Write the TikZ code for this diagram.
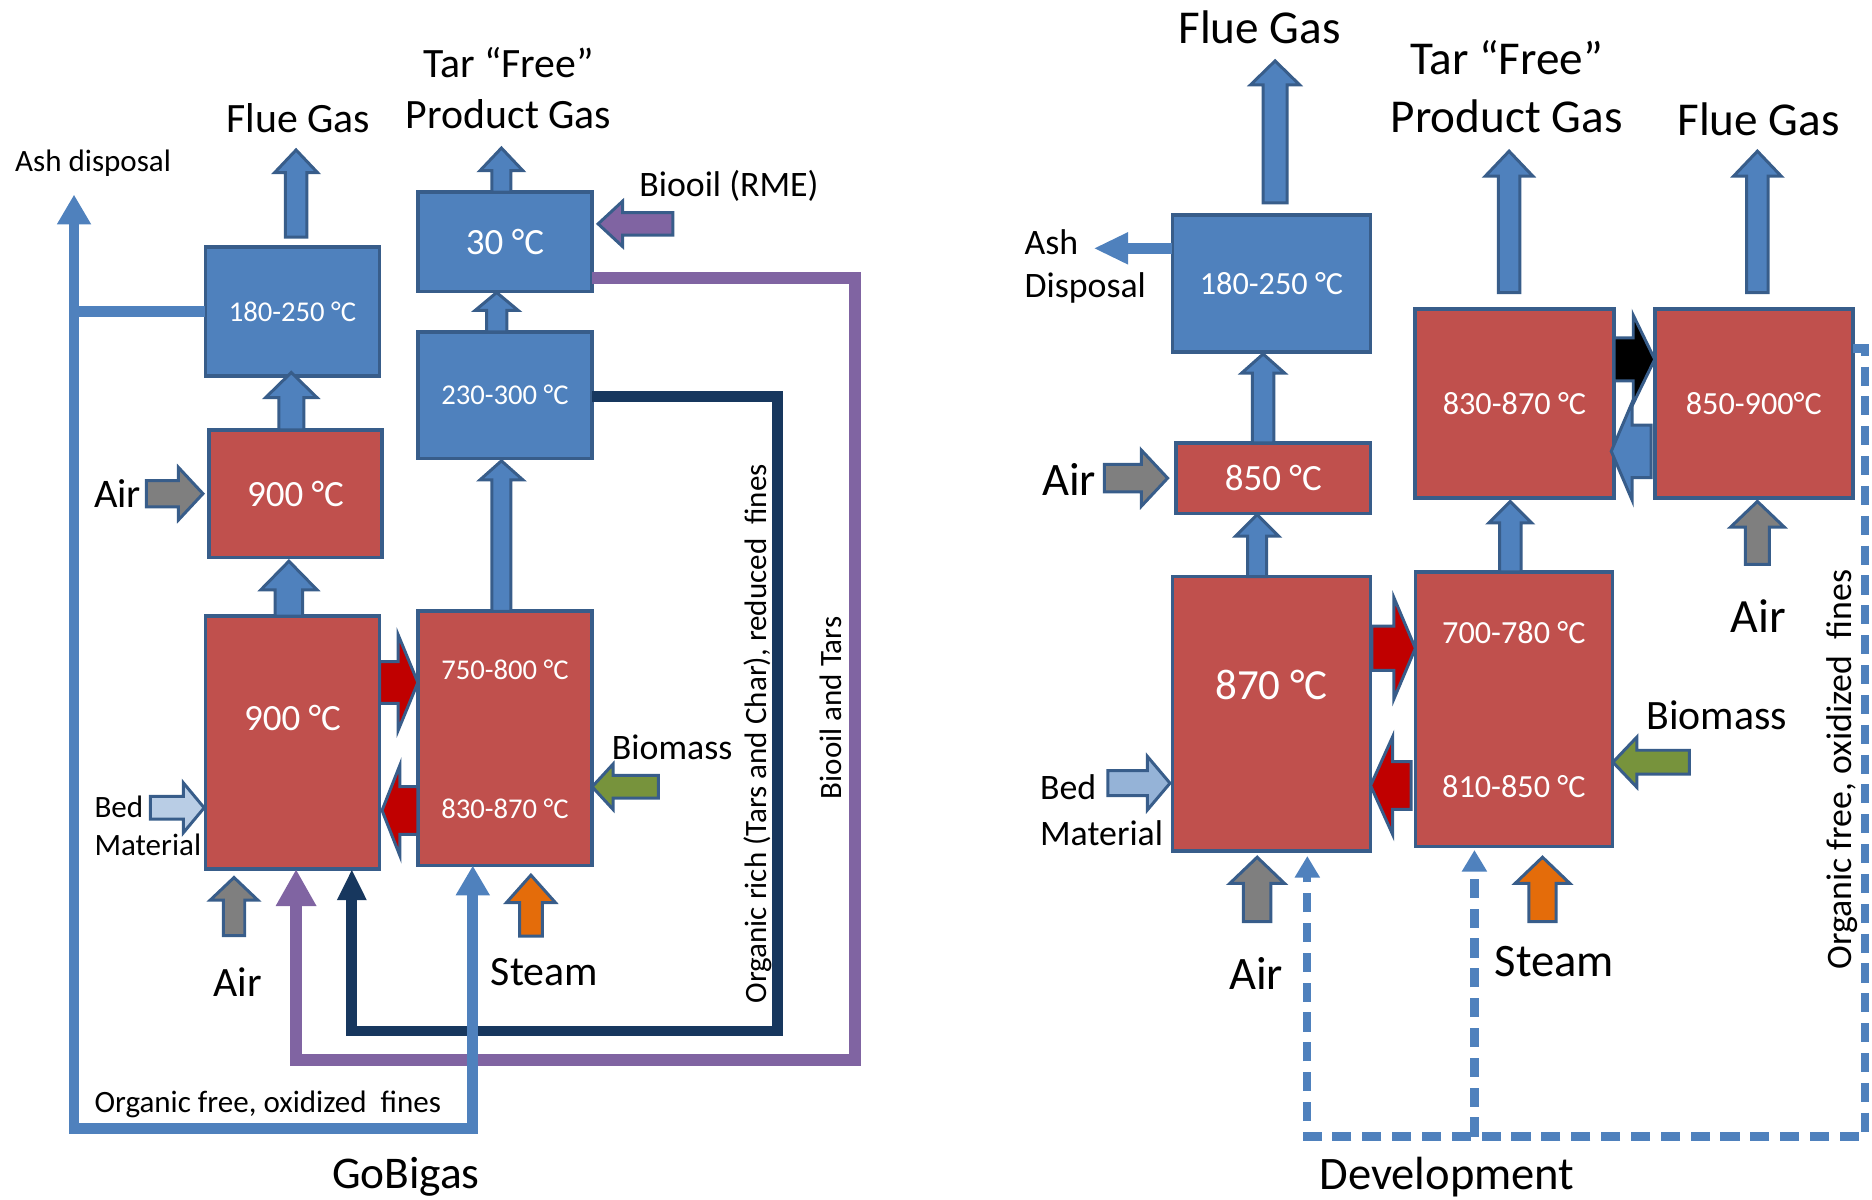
\documentclass[tikz,border=0pt]{standalone}
\usepackage{fontspec}
\setmainfont{Carlito}
\usetikzlibrary{calc,arrows.meta}

\definecolor{boxblue}{HTML}{4F81BD}
\definecolor{boxred}{HTML}{C0504D}
\definecolor{rim}{HTML}{385D8A}
\definecolor{hotred}{HTML}{C00000}
\definecolor{airgray}{HTML}{7F7F7F}
\definecolor{leaf}{HTML}{77933C}
\definecolor{steamor}{HTML}{E46C0A}
\definecolor{bedlight}{HTML}{B9CDE5}
\definecolor{bedmid}{HTML}{95B3D7}
\definecolor{oil}{HTML}{8064A2}
\definecolor{navy}{HTML}{17375E}

\tikzset{
	blkbox/.style={draw=rim, line width=3pt, outer sep=0pt, inner sep=0pt, text=white},
	coolbox/.style={blkbox, fill=boxblue},
	hotbox/.style={blkbox, fill=boxred},
	boxtext/.style={inner sep=0pt, text=white},
	lab/.style={inner sep=0pt},
	fs/.style={font=\fontsize{#1}{#1}\selectfont},
	barrow/.style={draw=rim, line width=2.5pt, fill=#1},
	fines/.style={draw=boxblue, line width=9pt},
	oilline/.style={draw=oil, line width=10pt},
	charline/.style={draw=navy, line width=9pt},
	dashloop/.style={draw=boxblue, line width=7pt, dash pattern=on 16pt off 9pt}
}

% fat arrow: style, tail, tip, half shaft, half head, head length
\newcommand{\blockarrow}[6]{%
	\path[#1] let \p1=(#2), \p2=(#3), \p3=($(\p2)!#6!(\p1)$) in
		($(\p1)!#4!90:(\p2)$) -- ($(\p3)!#4!90:(\p2)$) -- ($(\p3)!#5!90:(\p2)$) -- (\p2)
		-- ($(\p3)!#5!-90:(\p2)$) -- ($(\p3)!#4!-90:(\p2)$) -- ($(\p1)!#4!-90:(\p2)$) -- cycle;
}

\begin{document}
\begin{tikzpicture}[x=1pt, y=-1pt]
	\useasboundingbox (0,0) rectangle (1568,1005);

	% GoBigas
	\begin{scope}
		\node[coolbox, minimum width=146pt, minimum height=108pt, fs=24] (fgCool) at (245,261) {180-250 °C};
		\node[hotbox, minimum width=145pt, minimum height=107pt, fs=31] (comb) at (247.5,413.5) {900 °C};
		\node[hotbox, minimum width=146pt, minimum height=212pt] (riser) at (245,622) {};
		\node[coolbox, minimum width=146pt, minimum height=83pt, fs=31] (quench) at (423,202.5) {30 °C};
		\node[coolbox, minimum width=146pt, minimum height=106pt, fs=24] (pgCool) at (423,331) {230-300 °C};
		\node[hotbox, minimum width=146pt, minimum height=213pt] (gasif) at (423,618.5) {};
		\node[boxtext, fs=31] (riserT) at (245,601) {900 °C};
		\node[boxtext, fs=24] (gasifT1) at (423,561) {750-800 °C};
		\node[boxtext, fs=24] (gasifT2) at (423,677.6) {830-870 °C};

		\coordinate (flueL) at (248,125.6);
		\coordinate (prodL) at (420,124);
		\coordinate (bioL) at (551.5,659);
		\coordinate (oilIn) at (563.5,187.5);
		\coordinate (airL) at (122.6,413.5);
		\coordinate (bedL) at (126,676.6);
		\coordinate (airB) at (196,783.6);
		\coordinate (steamL) at (444.7,784);
		\coordinate (ashL) at (62,163);
		\coordinate (finesSW) at (62,945);
		\coordinate (oilSE) at (716,887.5);
		\coordinate (charSE) at (651,863.6);

		\draw[oilline, -{Triangle[length=31pt,width=32pt]}] ($(quench.east)+(0,30)$) -| (oilSE) -| ($(riser.south)+(3,0)$);
		\draw[charline, -{Triangle[length=26pt,width=23pt]}] ($(pgCool.east)+(0,1)$) -| (charSE) -| ($(riser.south)+(49.7,0)$);
		\draw[fines, {Triangle[length=25pt,width=27pt]}-{Triangle[length=25pt,width=27pt]}] (ashL) -- (finesSW) -| ($(gasif.south)+(-27,0)$);
		\draw[fines] (fgCool.west) -- (fgCool.west -| ashL);

		\blockarrow{barrow=boxblue}{$(fgCool.north)+(3,-8.3)$}{flueL}{9pt}{18pt}{19pt}
		\blockarrow{barrow=boxblue}{$(quench.north)+(-3,0)$}{prodL}{8pt}{18pt}{19pt}
		\blockarrow{barrow=boxblue}{$(pgCool.north)+(-7,0)$}{$(quench.south)+(-7,1)$}{8.5pt}{18pt}{15pt}
		\blockarrow{barrow=boxblue}{$(comb.north)+(-3.5,0)$}{$(fgCool.south)+(-1,-3)$}{10.5pt}{21.5pt}{21pt}
		\blockarrow{barrow=boxblue}{$(riser.north)+(-3,0)$}{$(comb.south)+(-5.5,3)$}{11.5pt}{23.5pt}{24pt}
		\blockarrow{barrow=boxblue}{$(gasif.north)+(-3,0)$}{$(pgCool.south)+(-3,2)$}{8pt}{18pt}{16pt}
		\blockarrow{barrow=hotred}{$(riser.east)+(0,-50.3)$}{$(gasif.west)+(0,-46.8)$}{17.5pt}{40pt}{16.5pt}
		\blockarrow{barrow=hotred}{$(gasif.west)+(0,60.3)$}{$(riser.east)+(2,56.8)$}{20pt}{38pt}{15pt}
		\blockarrow{barrow=leaf}{bioL}{$(gasif.east)+(0,40.5)$}{9.5pt}{19pt}{17.5pt}
		\blockarrow{barrow=oil}{oilIn}{$(quench.east)+(5,-15)$}{9.5pt}{19pt}{20.5pt}
		\blockarrow{barrow=airgray}{airL}{$(comb.west)+(-5,0)$}{11pt}{22pt}{20.5pt}
		\blockarrow{barrow=bedlight}{bedL}{$(riser.west)+(-1,54.6)$}{9.5pt}{21pt}{17.5pt}
		\blockarrow{barrow=airgray}{airB}{$(riser.south)+(-49,7)$}{9pt}{20pt}{19pt}
		\blockarrow{barrow=steamor}{steamL}{$(gasif.south)+(21.7,8)$}{9.5pt}{20.5pt}{23pt}

		\node[lab, fs=26] (ashLbl) at (78,137) {Ash disposal};
		\node[lab, fs=35] (flueLbl) at (250,98.6) {Flue Gas};
		\node[lab, align=center, font=\fontsize{35}{43}\selectfont] (prodLbl) at (426,73.5) {Tar “Free”\\Product Gas};
		\node[lab, fs=30] (oilLbl) at (610.6,155.5) {Biooil (RME)};
		\node[lab, fs=34] (airLbl) at (98.5,413.5) {Air};
		\node[lab, align=left, anchor=west, font=\fontsize{26}{32}\selectfont] (bedLbl) at (79,692) {Bed\\Material};
		\node[lab, fs=30] (bioLbl) at (563,626) {Biomass};
		\node[lab, fs=35] (airLbl2) at (199,822.8) {Air};
		\node[lab, fs=35] (steamLbl) at (456,814) {Steam};
		\node[lab, fs=26, anchor=west] (finesLbl) at (79,925) {Organic free, oxidized\ \ fines};
		\node[lab, fs=38] (goLbl) at (340,986) {GoBigas};
		\node[lab, fs=26, rotate=90] (richLbl) at (634.6,614.6) {Organic rich (Tars and Char), reduced\ \ fines};
		\node[lab, fs=26, rotate=90] (tarLbl) at (696,593) {Biooil and Tars};
	\end{scope}

	% Development
	\begin{scope}
		\node[coolbox, minimum width=166pt, minimum height=115pt, fs=27] (dFgCool) at (1065,237.5) {180-250 °C};
		\node[hotbox, minimum width=163pt, minimum height=59pt, fs=31] (dComb) at (1066.5,400.5) {850 °C};
		\node[hotbox, minimum width=166pt, minimum height=230pt] (dRiser) at (1065,598) {};
		\node[hotbox, minimum width=165pt, minimum height=230pt] (dGasif) at (1268,594) {};
		\node[hotbox, minimum width=167pt, minimum height=158pt, fs=27] (dReform) at (1268.5,338) {830-870 °C};
		\node[hotbox, minimum width=166pt, minimum height=158pt, fs=27] (dComb2) at (1469,338) {850-900°C};
		\node[boxtext, fs=36] (dRiserT) at (1065,574) {870 °C};
		\node[boxtext, fs=27] (dGasifT1) at (1268,530) {700-780 °C};
		\node[boxtext, fs=27] (dGasifT2) at (1268,658.6) {810-850 °C};

		\coordinate (flueD) at (1068,51);
		\coordinate (ashD) at (916,208);
		\coordinate (airD) at (925,400.5);
		\coordinate (bedD) at (928,656);
		\coordinate (airDB) at (1053,772);
		\coordinate (steamD) at (1292,772);
		\coordinate (bioD) at (1415,638.4);
		\coordinate (prodD) at (1264,126.6);
		\coordinate (flueD2) at (1472,126.6);
		\coordinate (airD2) at (1472,472.7);
		\coordinate (dLoopR) at (1562,952);
		\coordinate (dTap) at (1235,952);

		\draw[dashloop, -{Triangle[length=18pt,width=20pt]}] ($(dComb2.east)+(0,-46)$) -| (dLoopR) -| ($(dRiser.south)+(30,4)$);
		\draw[dashloop, -{Triangle[length=18pt,width=20pt]}] (dTap) -- ($(dGasif.south)+(-33,3)$);
		\draw[fines, -{Triangle[length=29pt,width=25pt]}] ($(dFgCool.west)+(0,-29.5)$) -- (ashD);

		\blockarrow{barrow=boxblue}{$(dFgCool.north)+(3,-10)$}{flueD}{10pt}{20.5pt}{20pt}
		\blockarrow{barrow=boxblue}{$(dComb.north)+(-8.5,0)$}{$(dFgCool.south)+(-7,1.5)$}{9pt}{18pt}{16pt}
		\blockarrow{barrow=boxblue}{$(dRiser.north)+(-12,0)$}{$(dComb.south)+(-13.5,1)$}{8pt}{18pt}{18pt}
		\blockarrow{barrow=airgray}{airD}{$(dComb.west)+(-7,0)$}{11.5pt}{23.5pt}{22pt}
		\blockarrow{barrow=hotred}{$(dRiser.east)+(1,-55)$}{$(dGasif.west)+(0,-51)$}{18.5pt}{42.5pt}{18pt}
		\blockarrow{barrow=hotred}{$(dGasif.west)+(-3.5,64)$}{$(dRiser.east)+(0,60)$}{20pt}{41pt}{18.5pt}
		\blockarrow{barrow=bedmid}{bedD}{$(dRiser.west)+(-2,58)$}{10.5pt}{22.5pt}{19pt}
		\blockarrow{barrow=airgray}{airDB}{$(dRiser.south)+(-12,5)$}{11.5pt}{23pt}{22pt}
		\blockarrow{barrow=steamor}{steamD}{$(dGasif.south)+(24,9)$}{11.5pt}{23pt}{22pt}
		\blockarrow{barrow=leaf}{bioD}{$(dGasif.east)+(0.5,44.4)$}{10pt}{21pt}{20pt}
		\blockarrow{barrow=boxblue}{$(dGasif.north)+(-3,0)$}{$(dReform.south)+(-3.5,3)$}{9pt}{18pt}{18pt}
		\blockarrow{barrow=boxblue}{$(dReform.north)+(-4.5,-14)$}{prodD}{9pt}{20pt}{21pt}
		\blockarrow{barrow=boxblue}{$(dComb2.north)+(3,-14)$}{flueD2}{9pt}{20pt}{21pt}
		\blockarrow{barrow=black}{$(dReform.east)+(0,-37)$}{$(dComb2.west)+(0,-37)$}{18pt}{37pt}{18pt}
		\blockarrow{barrow=boxblue}{$(dComb2.west)+(-3,40)$}{$(dReform.east)+(-2.4,40)$}{22pt}{41pt}{17.5pt}
		\blockarrow{barrow=airgray}{airD2}{$(dComb2.south)+(3,3)$}{10pt}{22.5pt}{21.5pt}

		\node[lab, fs=39.5] (dFlueLbl) at (1055,22.5) {Flue Gas};
		\node[lab, align=center, font=\fontsize{39.5}{49}\selectfont] (dProdLbl) at (1262,72.5) {Tar “Free”\\Product Gas};
		\node[lab, fs=39.5] (dFlueLbl2) at (1473,100) {Flue Gas};
		\node[lab, align=left, anchor=west, font=\fontsize{30}{36}\selectfont] (dAshLbl) at (858,223.5) {Ash\\Disposal};
		\node[lab, fs=39] (dAirLbl) at (895.5,402) {Air};
		\node[lab, align=left, anchor=west, font=\fontsize{30}{38}\selectfont] (dBedLbl) at (871,678.5) {Bed\\Material};
		\node[lab, fs=35] (dBioLbl) at (1438,599) {Biomass};
		\node[lab, fs=40] (dAirLbl2) at (1473,516) {Air};
		\node[lab, fs=39] (dAirLbl3) at (1052,815) {Air};
		\node[lab, fs=39] (dSteamLbl) at (1302,805) {Steam};
		\node[lab, fs=39] (devLbl) at (1212,986) {Development};
		\node[lab, fs=30, rotate=90] (dFinesLbl) at (1543,644.5) {Organic free, oxidized\ \ fines};
	\end{scope}
\end{tikzpicture}
\end{document}
